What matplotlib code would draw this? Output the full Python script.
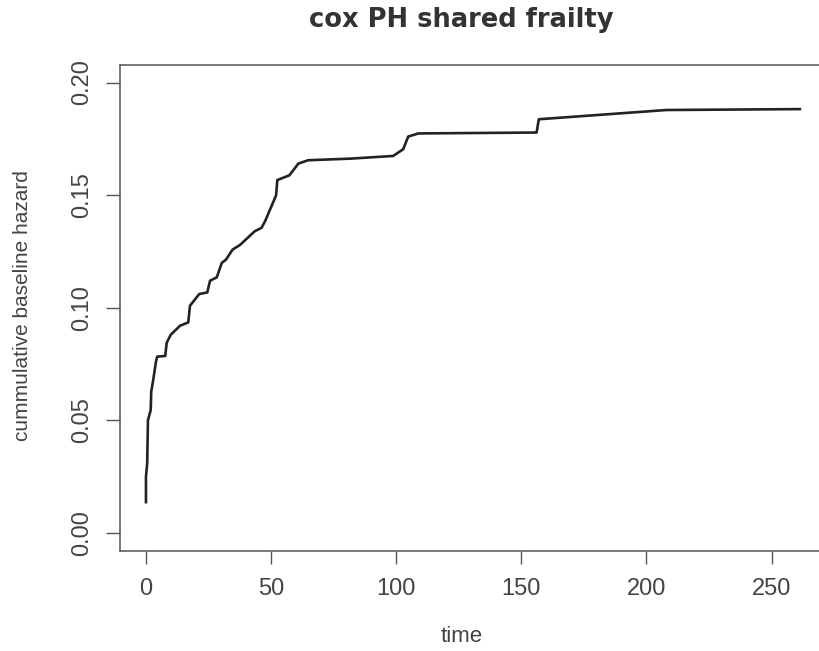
import matplotlib.pyplot as plt
import numpy as np

plt.rcParams['font.family'] = ['Liberation Sans', 'DejaVu Sans']

# cumulative baseline hazard
time = [0, 0, 0.5, 0.8, 1.9, 2.1, 2.9, 4.0, 4.5, 7.7, 8.3, 9.9, 13.6, 16.9,
        17.6, 21.3, 24.5, 25.6, 28.3, 30.3, 32.0, 34.6, 37.6, 43.5, 46.2,
        47.6, 52.0, 52.5, 57.3, 60.9, 64.8, 81.5, 98.8, 102.8, 104.8, 108.8,
        156.1, 157.0, 208.0, 261.3]
hazard = [0.0137, 0.0249, 0.0310, 0.0501, 0.0546, 0.0627, 0.0679, 0.0761,
          0.0783, 0.0786, 0.0845, 0.0880, 0.0920, 0.0935, 0.1009, 0.1061,
          0.1068, 0.1120, 0.1135, 0.1199, 0.1214, 0.1258, 0.1279, 0.1340,
          0.1355, 0.1384, 0.1499, 0.1567, 0.1588, 0.1640, 0.1655, 0.1662,
          0.1674, 0.1704, 0.1760, 0.1774, 0.1778, 0.1837, 0.1878, 0.1882]

x_ticks = [0, 50, 100, 150, 200, 250]
y_ticks = [0.00, 0.05, 0.10, 0.15, 0.20]
y_tick_labels = ['0.00', '0.05', '0.10', '0.15', '0.20']

fig = plt.figure(figsize=(8.2, 6.51), dpi=100)
ax = fig.add_axes([0.1461, 0.1536, 0.8612, 0.7473])

ax.plot(time, hazard, color='#222222', linewidth=1.9)

ax.set_xlim(-10.45, 271.75)
ax.set_ylim(-0.008, 0.208)
ax.set_xticks(x_ticks)
ax.set_xticklabels([str(t) for t in x_ticks])
ax.set_yticks(y_ticks)
ax.set_yticklabels(y_tick_labels, rotation=90, va='center')

# box in R style; right side runs off the picture
for side in ['left', 'bottom', 'top']:
    ax.spines[side].set_color('#555555')
    ax.spines[side].set_linewidth(1.1)
ax.spines['right'].set_visible(False)
ax.patch.set_visible(False)

ax.tick_params(axis='x', direction='out', length=9.5, width=1.0, color='#555555',
               labelsize=17, labelcolor='#444444', pad=10)
ax.tick_params(axis='y', direction='out', length=10, width=1.0, color='#555555',
               labelsize=17, labelcolor='#444444', pad=9)

fig.text(0.563, 0.969, 'cox PH shared frailty', ha='center', va='center',
         fontsize=18.5, fontweight='bold', color='#333333', family='DejaVu Sans')
fig.text(0.563, 0.022, 'time', ha='center', va='center', fontsize=16, color='#444444')
fig.text(0.027, 0.53, 'cummulative baseline hazard', ha='center', va='center',
         rotation=90, fontsize=15, color='#444444')

plt.savefig('out.png', dpi=100)
